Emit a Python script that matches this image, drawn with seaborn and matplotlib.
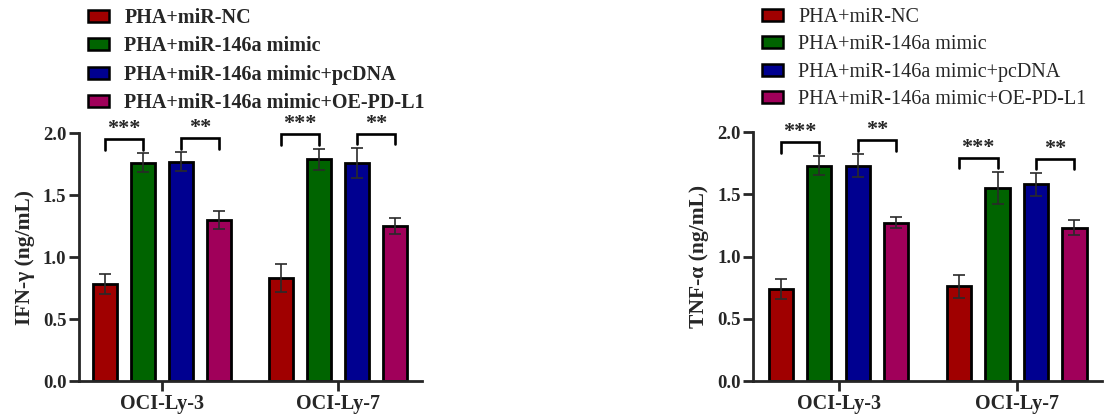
"""
Barras agrupadas IFN-γ / TNF-α (ng/mL) con barras de error y brackets de significancia.
"""
import matplotlib

matplotlib.use("Agg")

import matplotlib.patches as mpatches
import matplotlib.pyplot as plt
import numpy as np
import pandas as pd
import seaborn as sns

cell_lines = ["OCI-Ly-3", "OCI-Ly-7"]
groups = [
    "PHA+miR-NC",
    "PHA+miR-146a mimic",
    "PHA+miR-146a mimic+pcDNA",
    "PHA+miR-146a mimic+OE-PD-L1",
]
colors = ["#A00000", "#006400", "#000090", "#A0005A"]

# una fila por línea celular, una columna por grupo
ifng_mean = [[0.78, 1.76, 1.77, 1.30], [0.83, 1.79, 1.76, 1.25]]
ifng_sd = [[0.08, 0.075, 0.075, 0.075], [0.11, 0.085, 0.12, 0.065]]
tnfa_mean = [[0.74, 1.73, 1.73, 1.27], [0.76, 1.55, 1.58, 1.23]]
tnfa_sd = [[0.08, 0.075, 0.09, 0.045], [0.09, 0.13, 0.09, 0.06]]

sig_pairs = [(0, 1), (2, 3)]
sig_labels = ["***", "**"]

y_ticks = [0.0, 0.5, 1.0, 1.5, 2.0]

sns.set_style("ticks")
plt.rcParams["font.family"] = ["Liberation Serif", "DejaVu Serif"]
plt.rcParams["font.weight"] = "bold"
plt.rcParams["axes.linewidth"] = 2.0


def draw_panel(ax, means, sds, ylabel, xlim):
    df = pd.DataFrame({
        "cell": np.repeat(cell_lines, len(groups)),
        "group": groups * len(cell_lines),
        "value": np.ravel(means),
    })
    sns.barplot(
        data=df, x="cell", y="value", hue="group", hue_order=groups,
        palette=colors, saturation=1, width=0.864, gap=0.37,
        edgecolor="black", linewidth=2.0, errorbar=None, legend=False, ax=ax,
    )

    sd = np.asarray(sds)
    mean = np.asarray(means)
    centers = np.zeros_like(mean)
    for j, cont in enumerate(ax.containers):
        for i, p in enumerate(cont.patches):
            centers[i, j] = p.get_x() + p.get_width() / 2

    ax.errorbar(
        centers.ravel(), mean.ravel(), yerr=sd.ravel(), fmt="none",
        ecolor="#2a2a2a", elinewidth=1.2, capsize=4.5, capthick=1.2, zorder=4,
    )

    tops = mean + sd
    for i in range(len(cell_lines)):
        for (a, b), lab in zip(sig_pairs, sig_labels):
            base = max(tops[i, a], tops[i, b]) + 0.03
            top = base + 0.085
            xa, xb = centers[i, a], centers[i, b]
            ax.plot([xa, xa, xb, xb], [base, top, top, base], color="black",
                    lw=1.9, clip_on=False, solid_joinstyle="miter")
            ax.text((xa + xb) / 2, top + 0.08, lab, ha="center", va="center",
                    fontsize=16, fontweight="bold")

    ax.set_ylim(0, 2.0)
    ax.set_yticks(y_ticks)
    ax.set_yticklabels([f"{t:.1f}" for t in y_ticks])
    ax.set_xlim(*xlim)
    ax.set_xlabel("")
    ax.set_ylabel(ylabel, fontsize=15.5, fontweight="bold", labelpad=6)
    ax.tick_params(axis="both", width=2.0, length=7, direction="out", pad=2)
    ax.tick_params(axis="y", labelsize=13.5)
    ax.tick_params(axis="x", labelsize=14.5)
    sns.despine(ax=ax)


fig = plt.figure(figsize=(11.14, 4.18), dpi=100)
ax1 = fig.add_axes([0.0709, 0.0885, 0.3079, 0.5933])
ax2 = fig.add_axes([0.676, 0.0885, 0.3133, 0.5957])

draw_panel(ax1, ifng_mean, ifng_sd, "IFN-γ (ng/mL)", (-0.47, 1.477))
draw_panel(ax2, tnfa_mean, tnfa_sd, "TNF-α (ng/mL)", (-0.48, 1.479))

handles = [mpatches.Patch(facecolor=c, edgecolor="black", linewidth=1.8) for c in colors]
for x0, weight in [(88 / 1114, "bold"), (762 / 1114, "normal")]:
    fig.legend(
        handles, groups, loc="upper left", bbox_to_anchor=(x0, 1 - 8 / 418),
        frameon=False, borderpad=0, borderaxespad=0, handlelength=1.05,
        handleheight=0.55, handletextpad=0.75, labelspacing=0.42,
        prop={"family": "Liberation Serif", "weight": weight, "size": 14.5},
    )

fig.savefig("out.png", dpi=100)
plt.close(fig)
